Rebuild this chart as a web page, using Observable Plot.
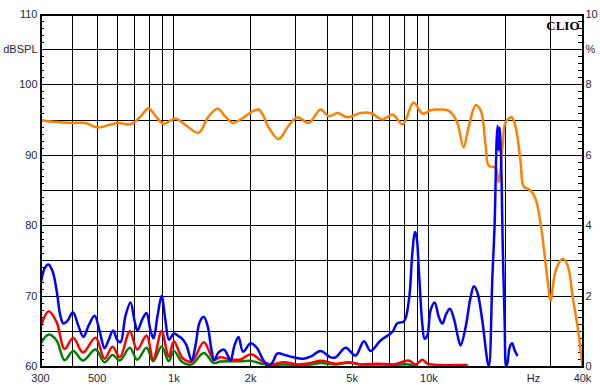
<!DOCTYPE html>
<html><head><meta charset="utf-8">
<script src="https://cdn.jsdelivr.net/npm/d3@7"></script>
<script src="https://cdn.jsdelivr.net/npm/@observablehq/plot@0.6"></script>
<style>body{margin:0;background:#fff}</style>
</head><body><div id="chart"></div>
<script>
// Frequency response (dBSPL, left axis)
const respFreq = [300,328,359,400,450,502,601,676,740,795,847,911,1015,1121,1249,1367,1483,1594,1699,1826,2148,2351,2573,2816,3055,3374,3760,4042,4384,4798,5396,5905,6581,7203,7884,8706,9443,10151,10621,11839,12495,12955,13676,14308,15240,15946,16683,17142,18258,18759,19449,19983,21097,21873,22884,23509,25041,26196,27405,29198,30000,31379,33424,34986,36619,38279,39336,40000];
const respDb = [95.0,94.8,94.7,94.6,94.6,93.95,94.6,94.4,95.5,96.7,95.6,94.5,95.2,94.2,93.2,95.5,96.6,95.5,94.6,95.1,96.5,94.0,92.3,94.2,95.4,94.6,96.5,95.55,96.0,95.4,96.0,96.0,95.1,95.8,94.4,97.5,95.9,96.4,96.5,96.4,95.65,94.5,91.15,94.0,97.1,96.4,91.4,88.55,88.2,86.2,91.4,94.7,95.4,94.0,89.0,85.6,85.0,83.8,80.3,72.2,69.4,73.6,75.3,74.35,69.85,65.6,62.3,60.0];

// Total distortion (blue), read on the left axis
const thdFreq = [300,311,322,334,347,359,369,383,402,423,442,463,489,511,535,554,578,601,618,646,676,701,720,754,781,810,832,863,895,927,957,1001,1043,1081,1121,1173,1216,1261,1310,1355,1405,1437,1497,1573,1624,1668,1729,1793,1867,1999,2110,2247,2351,2437,2550,2741,2946,3225,3436,3760,4116,4306,4712,5157,5559,5905,6463,7183,7515,7977,8344,8605,8809,8946,9133,9418,9616,9853,10151,10526,10943,11284,11698,12085,12529,12955,13310,13925,14568,15010,15478,16193,16940,17187,17723,18096,18426,18591,18759,18929,19188,19449,19803,20073,20346,20718,21192,21675,22170];
const thdDb = [71.6,73.9,74.5,73.6,70.8,67.2,66.1,66.5,67.7,65.7,64.2,65.8,67.2,65.1,62.6,63.7,65.1,63.7,63.45,67.2,69.1,66.5,65.1,66.8,67.6,65.1,64.0,67.2,70.0,66.5,63.8,64.7,64.3,63.9,63.0,60.85,63.0,66.25,67.05,65.8,62.3,60.9,62.0,62.4,61.6,60.85,63.0,64.2,62.1,63.3,62.7,60.85,60.1,60.6,61.85,61.6,61.3,61.1,61.4,62.2,61.3,61.3,62.65,61.55,63.6,62.2,63.7,64.9,66.15,66.4,69.4,76.0,79.1,78.4,73.6,66.1,63.95,64.4,68.0,69.1,67.0,66.1,67.5,68.2,66.8,64.4,63.0,65.6,69.85,71.4,70.55,66.5,60.85,60.0,72.5,80.3,92.1,94.2,90.7,93.95,89.3,77.9,66.5,60.0,60.6,62.7,63.3,62.3,61.6];

// 2nd (red) and 3rd (green) harmonics, read on the left axis
const harmFreq = [300,323,347,373,403,440,493,535,575,614,672,718,781,830,895,955,1000,1081,1173,1310,1434,1524,1668,1826,2008,2207,2393,2692,3055,3436,3760,4306,4841,5396,6291,7268,8322,8865,9418,9880,11112,12495,14050];
const h2Db = [65.6,67.85,66.3,62.5,64.1,62.0,64.1,61.1,62.8,61.3,65.0,62.4,64.4,61.0,65.0,61.4,63.6,61.2,60.7,63.45,61.0,61.3,61.0,61.0,61.75,60.8,60.3,60.6,60.3,60.5,60.8,60.4,60.6,60.3,60.4,60.3,60.85,60.3,60.95,60.4,60.2,60.2,60.2];
const h3Db = [63.2,64.55,63.7,60.9,62.2,60.85,62.4,60.6,61.65,60.85,62.65,60.95,62.65,60.75,62.85,60.75,62.2,60.6,60.3,61.9,60.5,60.7,60.75,60.75,60.8,60.4,60.2,60.3,60.2,60.3,60.5,60.3,60.55,60.3,60.3,60.25,60.3,60.1];

// Axes
const gridFreqs = [400,500,600,700,800,900,1000,2000,3000,4000,5000,6000,7000,8000,9000,10000,20000,30000];
const gridDb = [65,70,75,80,85,90,95,100,105];
const dbTicks = [60,70,80,90,100,110];
const pctTicks = [0,2,4,6,8,10];
const minorDb = d3.range(61,110,1);
const xLabelFreqs = [300,500,1000,2000,5000,10000,25700,40000];
const xLabelTexts = ["300","500","1k","2k","5k","10k","Hz","40k"];

const resp = respFreq.map((f,i)=>({f, v: respDb[i]}));
const thd = thdFreq.map((f,i)=>({f, v: thdDb[i]}));
const h2 = h2Db.map((v,i)=>({f: harmFreq[i], v}));
const h3 = h3Db.map((v,i)=>({f: harmFreq[i], v}));
const xLabels = xLabelFreqs.map((f,i)=>({f, t: xLabelTexts[i]}));
const pctToDb = p => 60 + 5*p;

const W = 600, ML = 40, MR = 18;
const inner = W - ML - MR;
const txt = "#1e1e3c";

const chart = Plot.plot({
  width: W, height: 392,
  marginLeft: ML, marginRight: MR, marginTop: 14, marginBottom: 26,
  style: {background: "#fff", fontFamily: "'Liberation Sans', Arial, sans-serif", fontSize: "11px"},
  x: {type: "log", domain: [300, 40000], axis: null},
  y: {domain: [60, 110], axis: null},
  marks: [
    Plot.ruleX(gridFreqs, {stroke: "#000", strokeWidth: 1, shapeRendering: "crispEdges"}),
    Plot.ruleY(gridDb, {stroke: "#000", strokeWidth: 1, shapeRendering: "crispEdges"}),
    Plot.tickY(minorDb, {y: d => d, stroke: "#000", insetRight: inner - 4, shapeRendering: "crispEdges"}),
    Plot.tickY(minorDb, {y: d => d, stroke: "#000", insetLeft: inner - 4, shapeRendering: "crispEdges"}),
    Plot.line(resp, {x: "f", y: "v", stroke: "#ff8000", strokeWidth: 2.5, curve: "catmull-rom", clip: true}),
    Plot.line(h3, {x: "f", y: "v", stroke: "#008000", strokeWidth: 2.5, curve: "catmull-rom", clip: true}),
    Plot.line(h2, {x: "f", y: "v", stroke: "#ff0000", strokeWidth: 2.5, curve: "catmull-rom", clip: true}),
    Plot.line(thd, {x: "f", y: "v", stroke: "#0000ff", strokeWidth: 2.5, curve: "catmull-rom", clip: true}),
    Plot.frame({stroke: "#000", strokeWidth: 2, shapeRendering: "crispEdges"}),
    Plot.text(dbTicks, {y: d => d, text: d => String(d), frameAnchor: "left", textAnchor: "end", dx: -3, fill: txt, fontSize: 11}),
    Plot.text(["dBSPL"], {y: [105], text: d => d, frameAnchor: "left", textAnchor: "end", dx: -3, fill: txt, fontSize: 11}),
    Plot.text(pctTicks, {y: pctToDb, text: d => String(d), frameAnchor: "right", textAnchor: "start", dx: 3, fill: txt, fontSize: 11}),
    Plot.text(["%"], {y: [pctToDb(9)], text: d => d, frameAnchor: "right", textAnchor: "start", dx: 3, fill: txt, fontSize: 11}),
    Plot.text(xLabels, {x: "f", text: "t", frameAnchor: "bottom", dy: 15, fill: txt, fontSize: 11}),
    Plot.text(["CLIO"], {text: d => d, frameAnchor: "top-right", textAnchor: "end", dx: -3, dy: 6, fontFamily: "'Liberation Serif', 'DejaVu Serif', serif", fontWeight: "bold", fontSize: 13, fill: "#000"})
  ]
});
document.getElementById("chart").appendChild(chart);
</script>
</body></html>
